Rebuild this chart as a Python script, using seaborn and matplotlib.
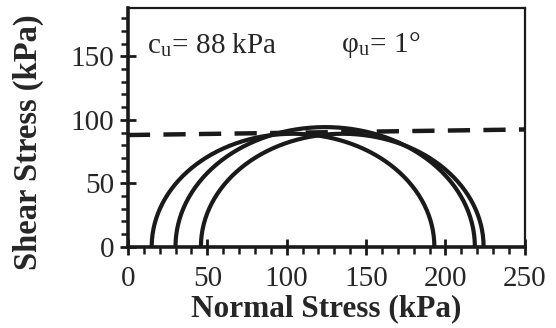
import numpy as np
import pandas as pd
import matplotlib
matplotlib.use("Agg")
import matplotlib.pyplot as plt
import seaborn as sns
from matplotlib.ticker import MultipleLocator

# principal stresses of each Mohr circle (kPa)
sigma3 = [15, 30, 46]
sigma1 = [193, 218.5, 224]

# failure envelope
env_x = [0, 250]
env_y = [88, 92.4]

sns.set_theme(style="white")
plt.rcParams['font.family'] = ['Liberation Serif', 'DejaVu Serif']
plt.rcParams['mathtext.fontset'] = 'stix'

fig = plt.figure(figsize=(5.56, 3.28), dpi=100)
ax = fig.add_axes([0.230, 0.248, 0.714, 0.727])

theta = np.linspace(0, np.pi, 200)
rows = []
for i, (s3, s1) in enumerate(zip(sigma3, sigma1)):
    c = (s1 + s3) / 2
    r = (s1 - s3) / 2
    for t in theta:
        rows.append({'circle': i, 'sigma': c + r * np.cos(t), 'tau': r * np.sin(t)})
circles = pd.DataFrame(rows)

for i, grp in circles.groupby('circle'):
    sns.lineplot(data=grp, x='sigma', y='tau', sort=False, color='#1a1a1a', lw=3.0, ax=ax)

sns.lineplot(x=env_x, y=env_y, color='#1a1a1a', lw=3.2, ax=ax)
ax.lines[-1].set_dashes([5, 3])

ax.set_xlim(0, 250)
ax.set_ylim(0, 188)
ax.xaxis.set_major_locator(MultipleLocator(50))
ax.xaxis.set_minor_locator(MultipleLocator(10))
ax.yaxis.set_major_locator(MultipleLocator(50))
ax.yaxis.set_minor_locator(MultipleLocator(10))
ax.set_yticks([0, 50, 100, 150])
ax.tick_params(which='major', direction='inout', length=12, width=2, labelsize=21, color='#1a1a1a')
ax.tick_params(axis='x', which='major', pad=8)
ax.tick_params(axis='y', which='major', pad=4)
ax.tick_params(which='minor', direction='out', length=5, width=1.8, color='#1a1a1a')
ax.tick_params(axis='x', which='both', bottom=True, top=False)
ax.tick_params(axis='y', which='both', left=True, right=False)

for side in ['left', 'bottom']:
    ax.spines[side].set_linewidth(2.6)
for side in ['top', 'right']:
    ax.spines[side].set_linewidth(1.6)
for s in ax.spines.values():
    s.set_color('#1a1a1a')

ax.set_xlabel('Normal Stress (kPa)', fontsize=22.5, fontweight='bold')
ax.set_ylabel('Shear Stress (kPa)', fontsize=23.5, fontweight='bold')
ax.xaxis.set_label_coords(0.5, -0.2)
ax.yaxis.set_label_coords(-0.212, 0.44)

ax.text(12, 159, r'c$_\mathregular{u}$= 88 kPa', fontsize=21, va='center')
ax.text(134, 159, r'φ$_\mathregular{u}$= 1°', fontsize=21, va='center')

fig.savefig('out.png', dpi=100)
